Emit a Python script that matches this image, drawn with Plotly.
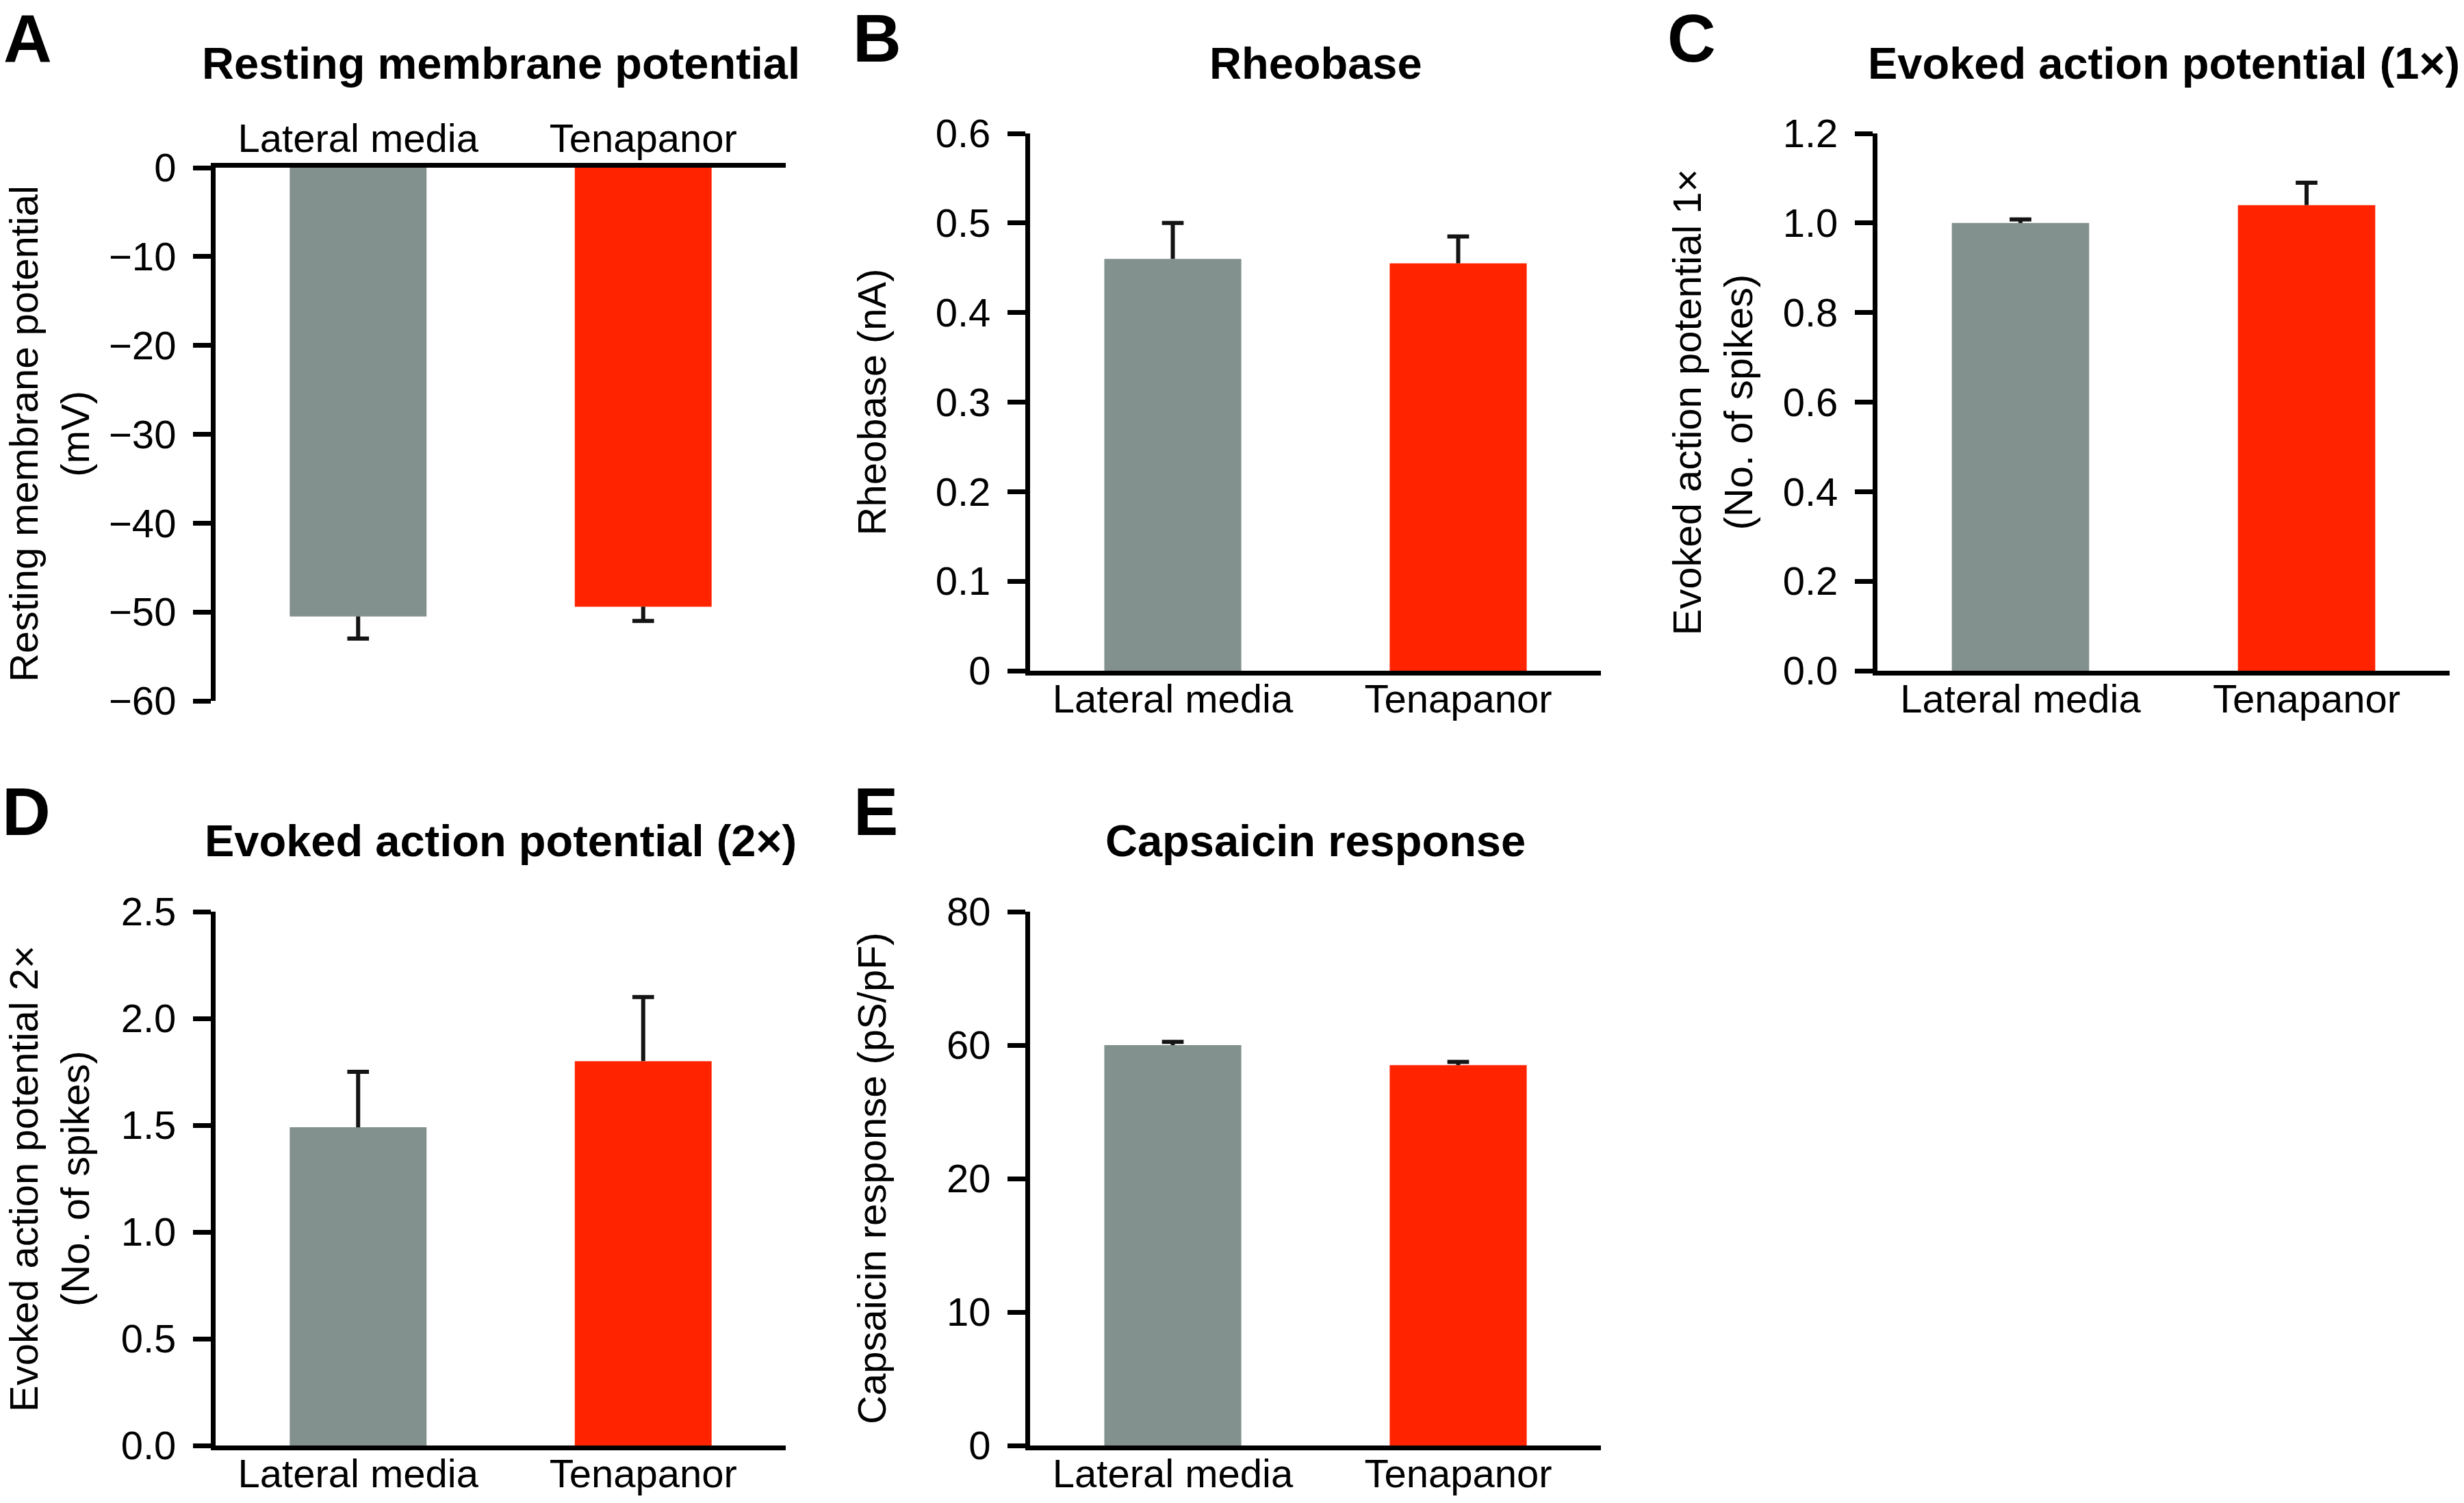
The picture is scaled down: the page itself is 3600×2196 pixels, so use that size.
import plotly.graph_objects as go

# ---------------- data ----------------
categories = ["Lateral media", "Tenapanor"]
bar_colors = ["#82918e", "#ff2300"]

rmp_mean = [-50.5, -49.4]
rmp_err = [2.5, 1.6]
rmp_ticks = [0, -10, -20, -30, -40, -50, -60]
rmp_ticktext = ["0", "−10", "−20", "−30", "−40", "−50", "−60"]

rheobase_mean = [0.46, 0.455]
rheobase_err = [0.04, 0.03]
rheobase_ticks = [0, 0.1, 0.2, 0.3, 0.4, 0.5, 0.6]

ap1_mean = [1.0, 1.04]
ap1_err = [0.008, 0.05]
ap1_ticks = [0.0, 0.2, 0.4, 0.6, 0.8, 1.0, 1.2]

ap2_mean = [1.49, 1.80]
ap2_err = [0.26, 0.30]
ap2_ticks = [0.0, 0.5, 1.0, 1.5, 2.0, 2.5]

caps_mean = [60.0, 57.0]
caps_err = [0.5, 0.5]
caps_tickvals = [0, 20, 40, 60, 80]
caps_ticktext = ["0", "10", "20", "60", "80"]

# ---------------- layout helpers ----------------
W, H = 3600, 2196
FONT = "Liberation Sans, Arial, Helvetica, sans-serif"
AX_LW = 7
TICK_FS = 58
TITLE_FS = 65
LETTER_FS = 98


def fx(p):
    return p / W


def fy(p):
    return 1 - p / H


panels = [
    dict(letter="A", title="Resting membrane potential",
         ytitle="Resting membrane potential<br>(mV)",
         mean=rmp_mean, err=rmp_err, yrange=[-60, 0],
         tickvals=rmp_ticks, ticktext=rmp_ticktext, tickfmt=None,
         xdom=(315, 1148), ydom=(245, 1024), side="top", xstand=-7,
         letter_pos=(40, 0), title_y=92, ytitle_x=72),
    dict(letter="B", title="Rheobase", ytitle="Rheobase (nA)",
         mean=rheobase_mean, err=rheobase_err, yrange=[0, 0.6],
         tickvals=rheobase_ticks, ticktext=None, tickfmt=None,
         xdom=(1505, 2339), ydom=(195, 980), side="bottom", xstand=-16,
         letter_pos=(1281, 0), title_y=92, ytitle_x=1273),
    dict(letter="C", title="Evoked action potential (1×)",
         ytitle="Evoked action potential 1×<br>(No. of spikes)",
         mean=ap1_mean, err=ap1_err, yrange=[0, 1.2],
         tickvals=ap1_ticks, ticktext=None, tickfmt=".1f",
         xdom=(2743, 3579), ydom=(195, 980), side="bottom", xstand=-16,
         letter_pos=(2471, 0), title_y=92, ytitle_x=2501),
    dict(letter="D", title="Evoked action potential (2×)",
         ytitle="Evoked action potential 2×<br>(No. of spikes)",
         mean=ap2_mean, err=ap2_err, yrange=[0, 2.5],
         tickvals=ap2_ticks, ticktext=None, tickfmt=".1f",
         xdom=(315, 1148), ydom=(1332, 2112), side="bottom", xstand=-16,
         letter_pos=(38, 1130), title_y=1228, ytitle_x=72),
    dict(letter="E", title="Capsaicin response", ytitle="Capsaicin response (pS/pF)",
         mean=caps_mean, err=caps_err, yrange=[0, 80],
         tickvals=caps_tickvals, ticktext=caps_ticktext, tickfmt=None,
         xdom=(1505, 2339), ydom=(1332, 2112), side="bottom", xstand=-16,
         letter_pos=(1279, 1130), title_y=1228, ytitle_x=1273),
]

xpos = list(range(len(categories)))
CAP = 0.038

fig = go.Figure()
annotations = []
layout_axes = {}

for i, p in enumerate(panels):
    n = "" if i == 0 else str(i + 1)
    xref, yref = "x" + n, "y" + n

    fig.add_trace(go.Bar(
        x=xpos, y=p["mean"], width=0.48,
        marker=dict(color=bar_colors, line=dict(width=0)),
        xaxis=xref, yaxis=yref, showlegend=False, hoverinfo="skip"))

    ex, ey = [], []
    for xi, m, e in zip(xpos, p["mean"], p["err"]):
        tip = m + e if m >= 0 else m - e
        ex += [xi, xi, None, xi - CAP, xi + CAP, None]
        ey += [m, tip, None, tip, tip, None]
    fig.add_trace(go.Scatter(
        x=ex, y=ey, mode="lines", line=dict(color="#141414", width=6),
        xaxis=xref, yaxis=yref, showlegend=False, hoverinfo="skip"))

    layout_axes["xaxis" + n] = dict(
        domain=[fx(p["xdom"][0]), fx(p["xdom"][1])], anchor=yref,
        range=[-0.5, 1.5], tickvals=xpos, ticktext=categories,
        side=p["side"], ticks="", showline=True, linewidth=AX_LW,
        linecolor="black", showgrid=False, zeroline=False, automargin=False,
        ticklabelstandoff=p["xstand"],
        tickfont=dict(family=FONT, size=TICK_FS, color="black"),
        fixedrange=True)
    yax = dict(
        domain=[fy(p["ydom"][1]), fy(p["ydom"][0])], anchor=xref,
        range=p["yrange"], tickvals=p["tickvals"], ticks="outside",
        ticklen=26, tickwidth=AX_LW, tickcolor="black",
        showline=True, linewidth=AX_LW, linecolor="black",
        showgrid=False, zeroline=False, automargin=False,
        ticklabelstandoff=13,
        tickfont=dict(family=FONT, size=TICK_FS, color="black"),
        fixedrange=True)
    if p["ticktext"] is not None:
        yax["ticktext"] = p["ticktext"]
    if p["tickfmt"]:
        yax["tickformat"] = p["tickfmt"]
    layout_axes["yaxis" + n] = yax

    xc = (p["xdom"][0] + p["xdom"][1]) / 2
    yc = (p["ydom"][0] + p["ydom"][1]) / 2
    annotations.append(dict(
        text="<b>" + p["letter"] + "</b>", x=fx(p["letter_pos"][0]),
        y=fy(p["letter_pos"][1]), xref="paper", yref="paper",
        xanchor="center", yanchor="top", showarrow=False, borderpad=0,
        font=dict(family=FONT, size=LETTER_FS, color="black")))
    annotations.append(dict(
        text="<b>" + p["title"] + "</b>", x=fx(xc), y=fy(p["title_y"]),
        xref="paper", yref="paper", xanchor="center", yanchor="middle",
        showarrow=False, font=dict(family=FONT, size=TITLE_FS, color="black")))
    annotations.append(dict(
        text=p["ytitle"], x=fx(p["ytitle_x"]), y=fy(yc),
        xref="paper", yref="paper", xanchor="center", yanchor="middle",
        textangle=-90, showarrow=False,
        font=dict(family=FONT, size=TICK_FS, color="black")))

fig.update_layout(
    width=W, height=H, margin=dict(l=0, r=0, t=0, b=0, autoexpand=False),
    paper_bgcolor="white", plot_bgcolor="white",
    barmode="overlay", annotations=annotations, **layout_axes)

fig.write_html(
    "out.html",
    config={"displayModeBar": False},
    post_script="document.body.style.margin='0';document.body.style.overflow='hidden';")
